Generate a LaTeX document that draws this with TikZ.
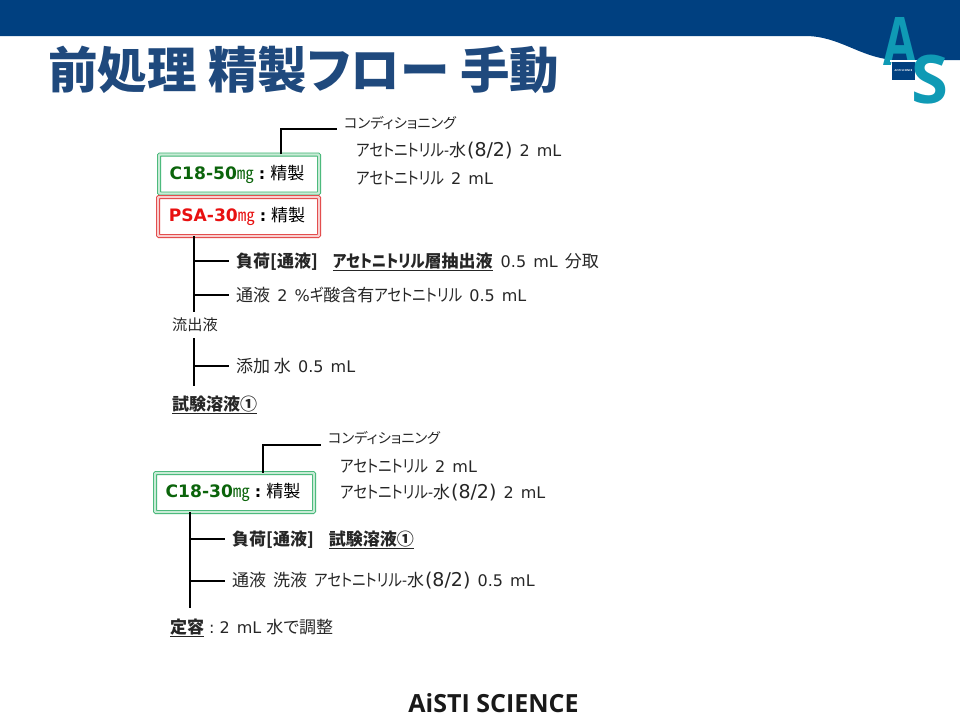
\documentclass[tikz,border=0pt]{standalone}
\usepackage{fontspec}
\setmainfont[WordSpace=1.4]{DejaVu Sans}
\newfontfamily\jpfont[RawFeature={+palt},Scale=1.0625]{Noto Sans CJK JP}
\newfontfamily\logofont{Open Sans}
\newfontfamily\boxfont[Scale=1.07]{DejaVu Sans}
\newcommand{\jp}[1]{{\jpfont #1}}
\newcommand{\kana}[1]{\scalebox{.85}[1]{\jpfont #1}}
\newcommand{\ratio}{{\fontsize{19}{19}\selectfont\kern1pt(8/2)}}
\usetikzlibrary{calc,positioning}
\definecolor{bannerblue}{HTML}{004080}
\definecolor{titleblue}{HTML}{1F497D}
\definecolor{logoteal}{HTML}{0F9AB5}
\definecolor{boxgreen}{HTML}{3CB371}
\definecolor{palegreen}{HTML}{C8EBD6}
\definecolor{boxred}{HTML}{E03C3C}
\definecolor{palered}{HTML}{F8CFCF}
\definecolor{c18green}{HTML}{0B640B}
\definecolor{psared}{HTML}{E81010}
\tikzstyle{label}=[anchor=west, inner sep=0pt, font=\fontsize{16}{19}\selectfont, text=black!85]
\tikzstyle{small}=[label, font=\fontsize{13.4}{16}\selectfont]
\tikzstyle{cartridge}=[rounded corners=1pt, line width=.8pt, double distance=2.4pt, fill=white, minimum height=39pt, inner sep=0pt, align=center, font=\fontsize{16}{19}\selectfont]
\tikzstyle{c18}=[cartridge, draw=boxgreen, double=palegreen]
\tikzstyle{psa}=[cartridge, draw=boxred, double=palered]
\tikzstyle{flowline}=[line width=2pt]

\begin{document}
\begin{tikzpicture}[x=1pt,y=-1pt]
\useasboundingbox (0,0) rectangle (960,720);
% banner
\fill [bannerblue] (0,0) -- (960,0) -- (960,60) -- (895,60) .. controls (860,58) and (840,36) .. (805,36) -- (0,36) -- cycle;
% logo
\node (logoa) at (900,41) [text=logoteal, inner sep=0pt, font=\logofont\bfseries\fontsize{67}{67}\selectfont] {\scalebox{.72}[1]{A}};
\fill [white] (890,60) rectangle (917,62);
\node (logobox) at (903.5,71) [fill=bannerblue, minimum width=23pt, minimum height=18pt, inner sep=0pt, text=white, font=\logofont\bfseries\fontsize{2.6}{3}\selectfont] {AiSTI SCIENCE};
\node (logos) at (929.5,80) [text=logoteal, inner sep=0pt, font=\logofont\bfseries\fontsize{67}{67}\selectfont] {S};
% title
\node (title) at (48,70) [anchor=west, inner sep=0pt, text=titleblue, font=\jpfont\bfseries\fontsize{46.6}{50}\selectfont] {前処理 精製フロー 手動};

% first cartridges
\node (c18a) at (239,174) [c18, minimum width=160pt] {\textcolor{c18green}{{\boxfont\bfseries C18-50}\jp{㎎}}\hspace{5pt}\textbf{:}\hspace{5pt}\jp{精製}\hspace*{4pt}};
\node (psaa) at (238.5,216.5) [psa, minimum width=161pt] {\textcolor{psared}{{\boxfont\bfseries PSA-30}\jp{㎎}}\hspace{5pt}\textbf{:}\hspace{5pt}\jp{精製}\hspace*{3pt}};
\node (conda) at (344,123) [small] {\jp{コンディショニング}};
\node (condb) at (356,151) [label] {\kana{アセトニトリル-}\jp{水}\ratio{} 2 mL};
\node (condc) at (356,178) [label] {\kana{アセトニトリル} 2 mL};
\node (loada) at (236,262) [label] {\jp{\textbf{負荷[通液]}}\hspace{15pt}\underline{\kana{\bfseries アセトニトリル}\jp{\textbf{層抽出液}}}\hspace{8pt}0.5 mL \jp{分取}};
\node (passa) at (236,295) [label] {\jp{通液} 2 \%\kana{ギ}\jp{酸含有}\kana{アセトニトリル} 0.5 mL};
\node (eluate) at (172,325) [small, font=\fontsize{14.3}{16}\selectfont] {\jp{流出液}};
\node (adda) at (236,366) [label] {\jp{添加 水} 0.5 mL};
\node (testa) at (172,405) [label] {\underline{\jp{\textbf{試験溶液①}}}};

\coordinate (bendcond) at (281,129);
\coordinate (endcond) at (337,129);
\coordinate (splita) at (194,261);
\coordinate (splitb) at (194,295);
\coordinate (enda) at (194,312);
\coordinate (starta) at (194,338);
\coordinate (splitc) at (194,366);
\coordinate (endb) at (194,386);
\draw [flowline] (c18a.north -| bendcond) -- (bendcond) -- (endcond);
\draw [flowline] (psaa.south -| splita) -- (enda);
\draw [flowline] (splita) -- (229,261);
\draw [flowline] (splitb) -- (229,295);
\draw [flowline] (starta) -- (endb);
\draw [flowline] (splitc) -- (229,366);

% second cartridge
\node (c18b) at (234.5,492.5) [c18, minimum width=159pt] {\textcolor{c18green}{{\boxfont\bfseries C18-30}\jp{㎎}}\hspace{5pt}\textbf{:}\hspace{5pt}\jp{精製}\hspace*{3pt}};
\node (condd) at (328,438) [small] {\jp{コンディショニング}};
\node (conde) at (340,466) [label] {\kana{アセトニトリル} 2 mL};
\node (condf) at (340,493) [label] {\kana{アセトニトリル-}\jp{水}\ratio{} 2 mL};
\node (loadb) at (232,540) [label] {\jp{\textbf{負荷[通液]}}\hspace{15pt}\underline{\jp{\textbf{試験溶液①}}}};
\node (passb) at (232,581) [label] {\jp{通液}\hspace{7pt}\jp{洗液}\hspace{7pt}\kana{アセトニトリル-}\jp{水}\ratio{} 0.5 mL};
\node (volume) at (170,628) [label] {\underline{\jp{\textbf{定容}}}\hspace{5pt}:\hspace{5pt}2 mL\hspace{5pt}\jp{水で調整}};

\coordinate (bendconb) at (263,445);
\coordinate (endconb) at (321,445);
\coordinate (splitd) at (190,539);
\coordinate (splite) at (190,581);
\coordinate (endc) at (190,608);
\draw [flowline] (c18b.north -| bendconb) -- (bendconb) -- (endconb);
\draw [flowline] (c18b.south -| splitd) -- (endc);
\draw [flowline] (splitd) -- (225,539);
\draw [flowline] (splite) -- (225,581);

% footer
\node (footer) at (493.5,703) [inner sep=0pt, text=black!90, font=\logofont\bfseries\fontsize{25}{28}\selectfont] {AiSTI SCIENCE};
\end{tikzpicture}
\end{document}
